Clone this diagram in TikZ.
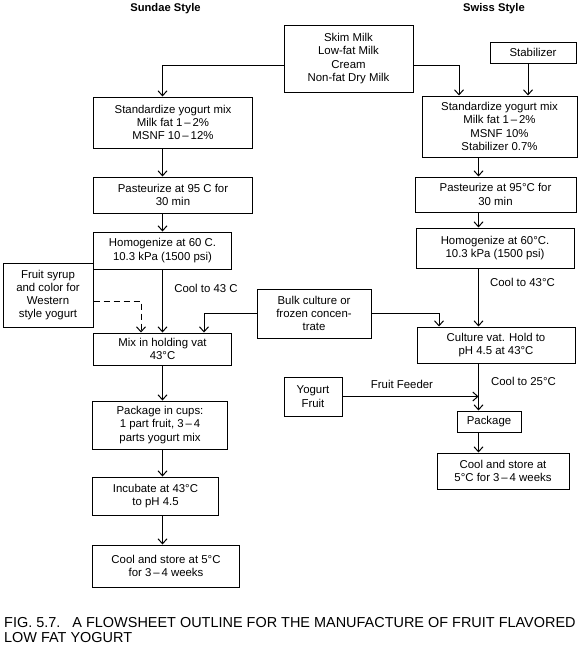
\documentclass[tikz,border=0pt]{standalone}
\usepackage{fontspec}
\setmainfont{Liberation Sans}
\usetikzlibrary{arrows.meta}

\begin{document}
\begin{tikzpicture}[x=1pt,y=-1pt,
  box/.style={draw,line width=1pt,align=center,inner sep=0pt,font=\fontsize{11.4}{13.3}\selectfont},
  sz/.style 2 args={minimum width=#1,minimum height=#2},
  lbl/.style={font=\fontsize{11.4}{13.3}\selectfont},
  ttl/.style={font=\fontsize{11.2}{13.3}\selectfont\bfseries},
  flow/.style={line width=1pt,-{Straight Barb[length=5pt,width=9pt]}}]
\useasboundingbox (0,0) rectangle (579,645);
\coordinate (colA) at (162.5,0);
\coordinate (colB) at (478.5,0);
\node[ttl] (tSun) at (165.5,9) {Sundae Style};
\node[ttl] (tSwi) at (494,9) {Swiss Style};
\node[box,sz={129}{67}] (milk) at (348.5,58.5) {Skim Milk\\Low-fat Milk\\Cream\\Non-fat Dry Milk};
\node[box,sz={86}{21}] (stab) at (533,52.5) {Stabilizer};
\node[box,sz={159}{51},anchor=west] (suStd) at (93,122.5) {Standardize yogurt mix\\Milk fat 1\,–\,2\%\\MSNF 10\,–\,12\%};
\node[box,sz={159}{36},anchor=west] (suPast) at (93,195) {Pasteurize at 95 C for\\30 min};
\node[box,sz={138}{37},anchor=west] (suHomo) at (93,250.5) {Homogenize at 60 C.\\10.3 kPa (1500 psi)};
\node[box,sz={90}{64}] (syrup) at (48,295) {Fruit syrup\\and color for\\Western\\style yogurt};
\node[box,sz={138}{32},anchor=west] (suMix) at (93,349) {Mix in holding vat\\43°C};
\node[box,sz={135}{48},anchor=west] (suPack) at (92,425) {Package in cups:\\1 part fruit, 3\,–\,4\\parts yogurt mix};
\node[box,sz={126}{38},anchor=west] (suInc) at (92,496) {Incubate at 43°C\\to pH 4.5};
\node[box,sz={147}{42},anchor=west] (suStore) at (92,566) {Cool and store at 5°C\\for 3\,–\,4 weeks};
\node[box,sz={114}{49}] (bulk) at (314,313.5) {Bulk culture or\\frozen concen-\\trate};
\node[box,sz={58}{39}] (yog) at (313,396.5) {Yogurt\\Fruit};
\node[box,sz={155}{61}] (swStd) at (499.5,126.5) {Standardize yogurt mix\\Milk fat 1\,–\,2\%\\MSNF 10\%\\Stabilizer 0.7\%};
\node[box,sz={161}{35}] (swPast) at (495.5,194.5) {Pasteurize at 95°C for\\30 min};
\node[box,sz={158}{40}] (swHomo) at (495,248) {Homogenize at 60°C.\\10.3 kPa (1500 psi)};
\node[box,sz={158}{36}] (swVat) at (496,345) {Culture vat. Hold to\\pH 4.5 at 43°C};
\node[box,sz={64}{21}] (swPack) at (489,421.5) {Package};
\node[box,sz={132}{36}] (swStore) at (503,471) {Cool and store at\\5°C for 3\,–\,4 weeks};
\node[lbl] (c43a) at (206,288) {Cool to 43 C};
\node[lbl] (c43b) at (522.5,282) {Cool to 43°C};
\node[lbl] (c25) at (523.5,381) {Cool to 25°C};
\node[lbl] (feed) at (402,384) {Fruit Feeder};
\node[anchor=north west,align=left,inner sep=0pt,font=\fontsize{14.45}{14.8}\selectfont] (cap) at (4,617) {FIG. 5.7.\ \ \ A FLOWSHEET OUTLINE FOR THE MANUFACTURE OF FRUIT FLAVORED\\LOW FAT YOGURT};
\draw[flow] ([yshift=-6.5pt]milk.west) -| (suStd.north -| colA);
\draw[flow] ([yshift=-6.5pt]milk.east) -| ([xshift=-40.5pt]swStd.north);
\draw[flow] ([xshift=-5pt]stab.south) -- ([xshift=-5pt]stab.south |- swStd.north);
\foreach \a/\b in {suStd/suPast,suPast/suHomo,suHomo/suMix,suMix/suPack,suPack/suInc,suInc/suStore}
  \draw[flow] (\a.south -| colA) -- (\b.north -| colA);
\foreach \a/\b in {swStd/swPast,swPast/swHomo,swHomo/swVat,swVat/swPack,swPack/swStore}
  \draw[flow] (\a.south -| colB) -- (\b.north -| colB);
\draw[flow,dash pattern=on 6pt off 4pt] ([yshift=-6pt]syrup.east) -| (suMix.north -| 141,0);
\draw[flow] (bulk.west) -| (suMix.north -| 204,0);
\draw[flow] (bulk.east) -| (swVat.north -| 439,0);
\draw[flow] (yog.east) -- (yog.east -| colB);
\end{tikzpicture}
\end{document}
